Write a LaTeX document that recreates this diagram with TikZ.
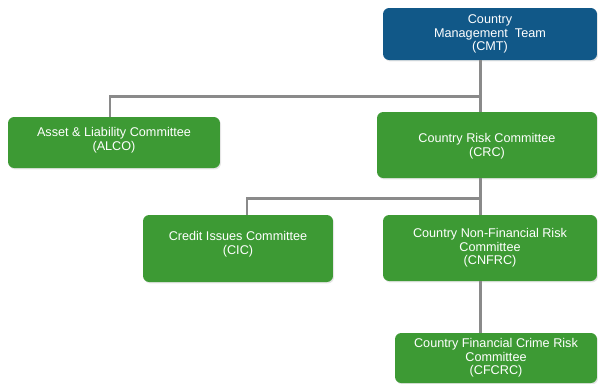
\documentclass[tikz,border=0pt]{standalone}
\usepackage{fontspec}
\setmainfont{Liberation Sans}
\usetikzlibrary{shadows}
\definecolor{cmtblue}{RGB}{17,88,136}
\definecolor{boxgreen}{RGB}{61,154,52}
\definecolor{linkgray}{RGB}{138,138,138}
\begin{document}
\begin{tikzpicture}[x=0.02cm,y=-0.02cm,
    committee/.style={rectangle, rounded corners=3.5pt, fill=boxgreen, text=white,
      align=center, inner sep=2pt, font=\fontsize{7.2}{7.6}\selectfont,
      drop shadow={opacity=0.2, shadow xshift=0.6pt, shadow yshift=-0.8pt}},
    board/.style={committee, fill=cmtblue},
    link/.style={draw=linkgray, line width=1.7pt}]
    \useasboundingbox (0,0) rectangle (598,383);

    \node[board, minimum width=4.28cm, minimum height=1.04cm] (CMT) at (490,34)
        {Country\\Management~~Team\\(CMT)};
    \node[committee, minimum width=4.24cm, minimum height=1.02cm] (ALCO) at (114,142.5)
        {Asset \& Liability Committee\\(ALCO)\\[-3.6pt]\mbox{}};
    \node[committee, minimum width=4.4cm, minimum height=1.32cm] (CRC) at (487,145)
        {\mbox{}\\[-0.8pt]Country Risk Committee\\(CRC)};
    \node[committee, minimum width=3.8cm, minimum height=1.34cm] (CIC) at (238,248.5)
        {Credit Issues Committee\\(CIC)\\[-1.4pt]\mbox{}};
    \node[committee, minimum width=4.28cm, minimum height=1.32cm] (CNFRC) at (490,248)
        {Country Non-Financial Risk\\Committee\\(CNFRC)};
    \node[committee, minimum width=4.04cm, minimum height=1.0cm] (CFCRC) at (496,358)
        {Country Financial Crime Risk\\Committee\\(CFCRC)};

    \coordinate (TopSplit) at (480,96);  % branch below CMT
    \coordinate (RiskSplit) at (480,198); % branch below CRC

    \draw[link] (CMT.south -| TopSplit) -- (TopSplit) -| (ALCO.north -| 110,0);
    \draw[link] (TopSplit) -- (CRC.north -| TopSplit);
    \draw[link] (CRC.south -| RiskSplit) -- (RiskSplit) -| (CIC.north -| 247,0);
    \draw[link] (RiskSplit) -- (CNFRC.north -| RiskSplit);
    \draw[link] (CNFRC.south -| RiskSplit) -- (CFCRC.north -| RiskSplit);
\end{tikzpicture}
\end{document}
